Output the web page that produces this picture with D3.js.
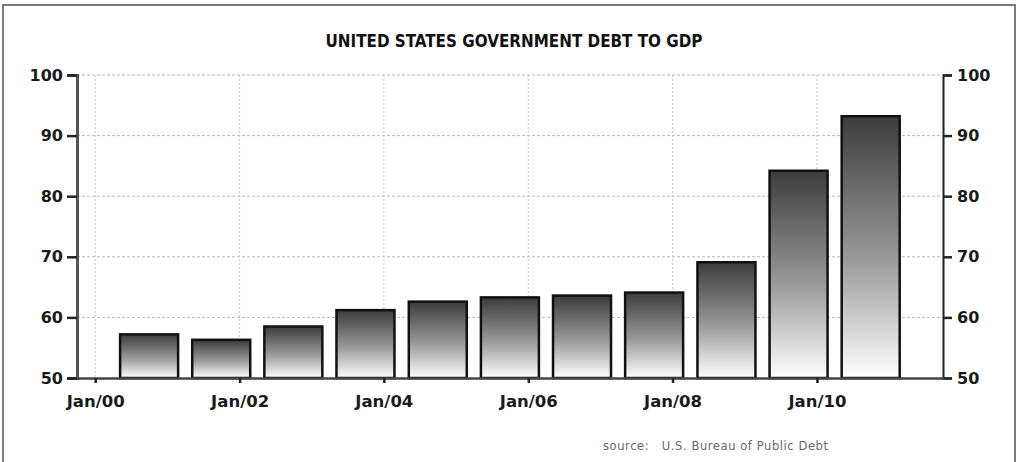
<!DOCTYPE html>
<html>
<head>
<meta charset="utf-8">
<script src="https://cdn.jsdelivr.net/npm/d3@7"></script>
<style>
  body { margin: 0; background: #fff; }
  text { font-family: "DejaVu Sans", Verdana, sans-serif; }
</style>
</head>
<body>
<div id="chart"></div>
<script>
// fiscal years (bar = value at end of September)
var years = [2000, 2001, 2002, 2003, 2004, 2005, 2006, 2007, 2008, 2009, 2010];
var debtToGdp = [57.2, 56.3, 58.5, 61.2, 62.6, 63.3, 63.6, 64.1, 69.1, 84.2, 93.2];
var yTicks = [50, 60, 70, 80, 90, 100];
var xTickYears = [2000, 2002, 2004, 2006, 2008, 2010];

function init() {
  var w = 1018, h = 462;
  var left = 77, right = 943, top = 75, bottom = 378;
  var barWidth = 58;

  var svg = d3.select("#chart").append("svg")
    .attr("width", w).attr("height", h);

  // outer frame
  svg.append("rect")
    .attr("x", 3).attr("y", 5).attr("width", 1012).attr("height", 480)
    .attr("fill", "none").attr("stroke", "#7a7a7a").attr("stroke-width", 2);

  var grad = svg.append("defs").append("linearGradient")
    .attr("id", "barGrad")
    .attr("x1", 0).attr("y1", 0).attr("x2", 0).attr("y2", 1);
  grad.append("stop").attr("offset", "0%").attr("stop-color", "#3c3c3c");
  grad.append("stop").attr("offset", "55%").attr("stop-color", "#9a9a9a");
  grad.append("stop").attr("offset", "100%").attr("stop-color", "#ffffff");

  var xScale = d3.scaleTime()
    .domain([new Date(1999, 9, 1), new Date(2011, 9, 1)])
    .range([left, right]);

  var yScale = d3.scaleLinear()
    .domain([50, 100])
    .range([bottom, top]);

  var xTicks = xTickYears.map(function(y) { return new Date(y, 0, 1); });

  // grid
  svg.append("g").selectAll("line")
    .data(yTicks.filter(function(d) { return d > 50; }))
    .enter().append("line")
    .attr("x1", left).attr("x2", right)
    .attr("y1", function(d) { return yScale(d); })
    .attr("y2", function(d) { return yScale(d); })
    .attr("stroke", "#b8b8b8").attr("stroke-dasharray", "3,2");

  svg.append("g").selectAll("line")
    .data(xTicks)
    .enter().append("line")
    .attr("x1", function(d) { return xScale(d); })
    .attr("x2", function(d) { return xScale(d); })
    .attr("y1", top).attr("y2", bottom)
    .attr("stroke", "#c4c4c4").attr("stroke-dasharray", "2,2");

  // bars
  svg.append("g").selectAll("rect")
    .data(debtToGdp)
    .enter().append("rect")
    .attr("x", function(d, i) { return xScale(new Date(years[i], 8, 30)) - barWidth / 2; })
    .attr("y", function(d) { return yScale(d); })
    .attr("width", barWidth)
    .attr("height", function(d) { return bottom - yScale(d); })
    .attr("fill", "url(#barGrad)")
    .attr("stroke", "#111").attr("stroke-width", 2.5);

  // axes
  var yLeft = svg.append("g")
    .attr("transform", "translate(" + left + ",0)")
    .call(d3.axisLeft(yScale).tickValues(yTicks).tickSize(10).tickPadding(4));
  yLeft.select(".domain").attr("stroke", "#555").attr("stroke-width", 3);

  var yRight = svg.append("g")
    .attr("transform", "translate(" + right + ",0)")
    .call(d3.axisRight(yScale).tickValues(yTicks).tickSize(9).tickPadding(5));
  yRight.select(".domain").attr("stroke", "#222").attr("stroke-width", 2);

  var xAxis = svg.append("g")
    .attr("transform", "translate(0," + bottom + ")")
    .call(d3.axisBottom(xScale).tickValues(xTicks)
      .tickFormat(d3.timeFormat("%b/%y")).tickSize(5).tickPadding(12).tickSizeOuter(0));
  xAxis.select(".domain").attr("stroke", "#444").attr("stroke-width", 2.5);

  svg.selectAll(".tick line").attr("stroke", "#222").attr("stroke-width", 2.5);
  svg.selectAll(".tick text")
    .attr("fill", "#1a1a1a")
    .style("font-size", "16px")
    .style("font-weight", "bold");
  xAxis.selectAll(".tick text").style("font-size", "16.5px");

  // title
  svg.append("text")
    .attr("x", 514).attr("y", 47)
    .attr("text-anchor", "middle")
    .attr("textLength", 377).attr("lengthAdjust", "spacingAndGlyphs")
    .style("font-family", "'DejaVu Sans Condensed', 'DejaVu Sans', sans-serif")
    .style("font-size", "17px").style("font-weight", "bold")
    .attr("fill", "#111")
    .text("UNITED STATES GOVERNMENT DEBT TO GDP");

  // source
  svg.append("text")
    .attr("x", 603).attr("y", 450)
    .style("font-size", "11.5px")
    .attr("fill", "#6a6a6a")
    .attr("xml:space", "preserve")
    .attr("textLength", 225).attr("lengthAdjust", "spacing")
    .text("source:   U.S. Bureau of Public Debt");
}

window.onload = init;
</script>
</body>
</html>
